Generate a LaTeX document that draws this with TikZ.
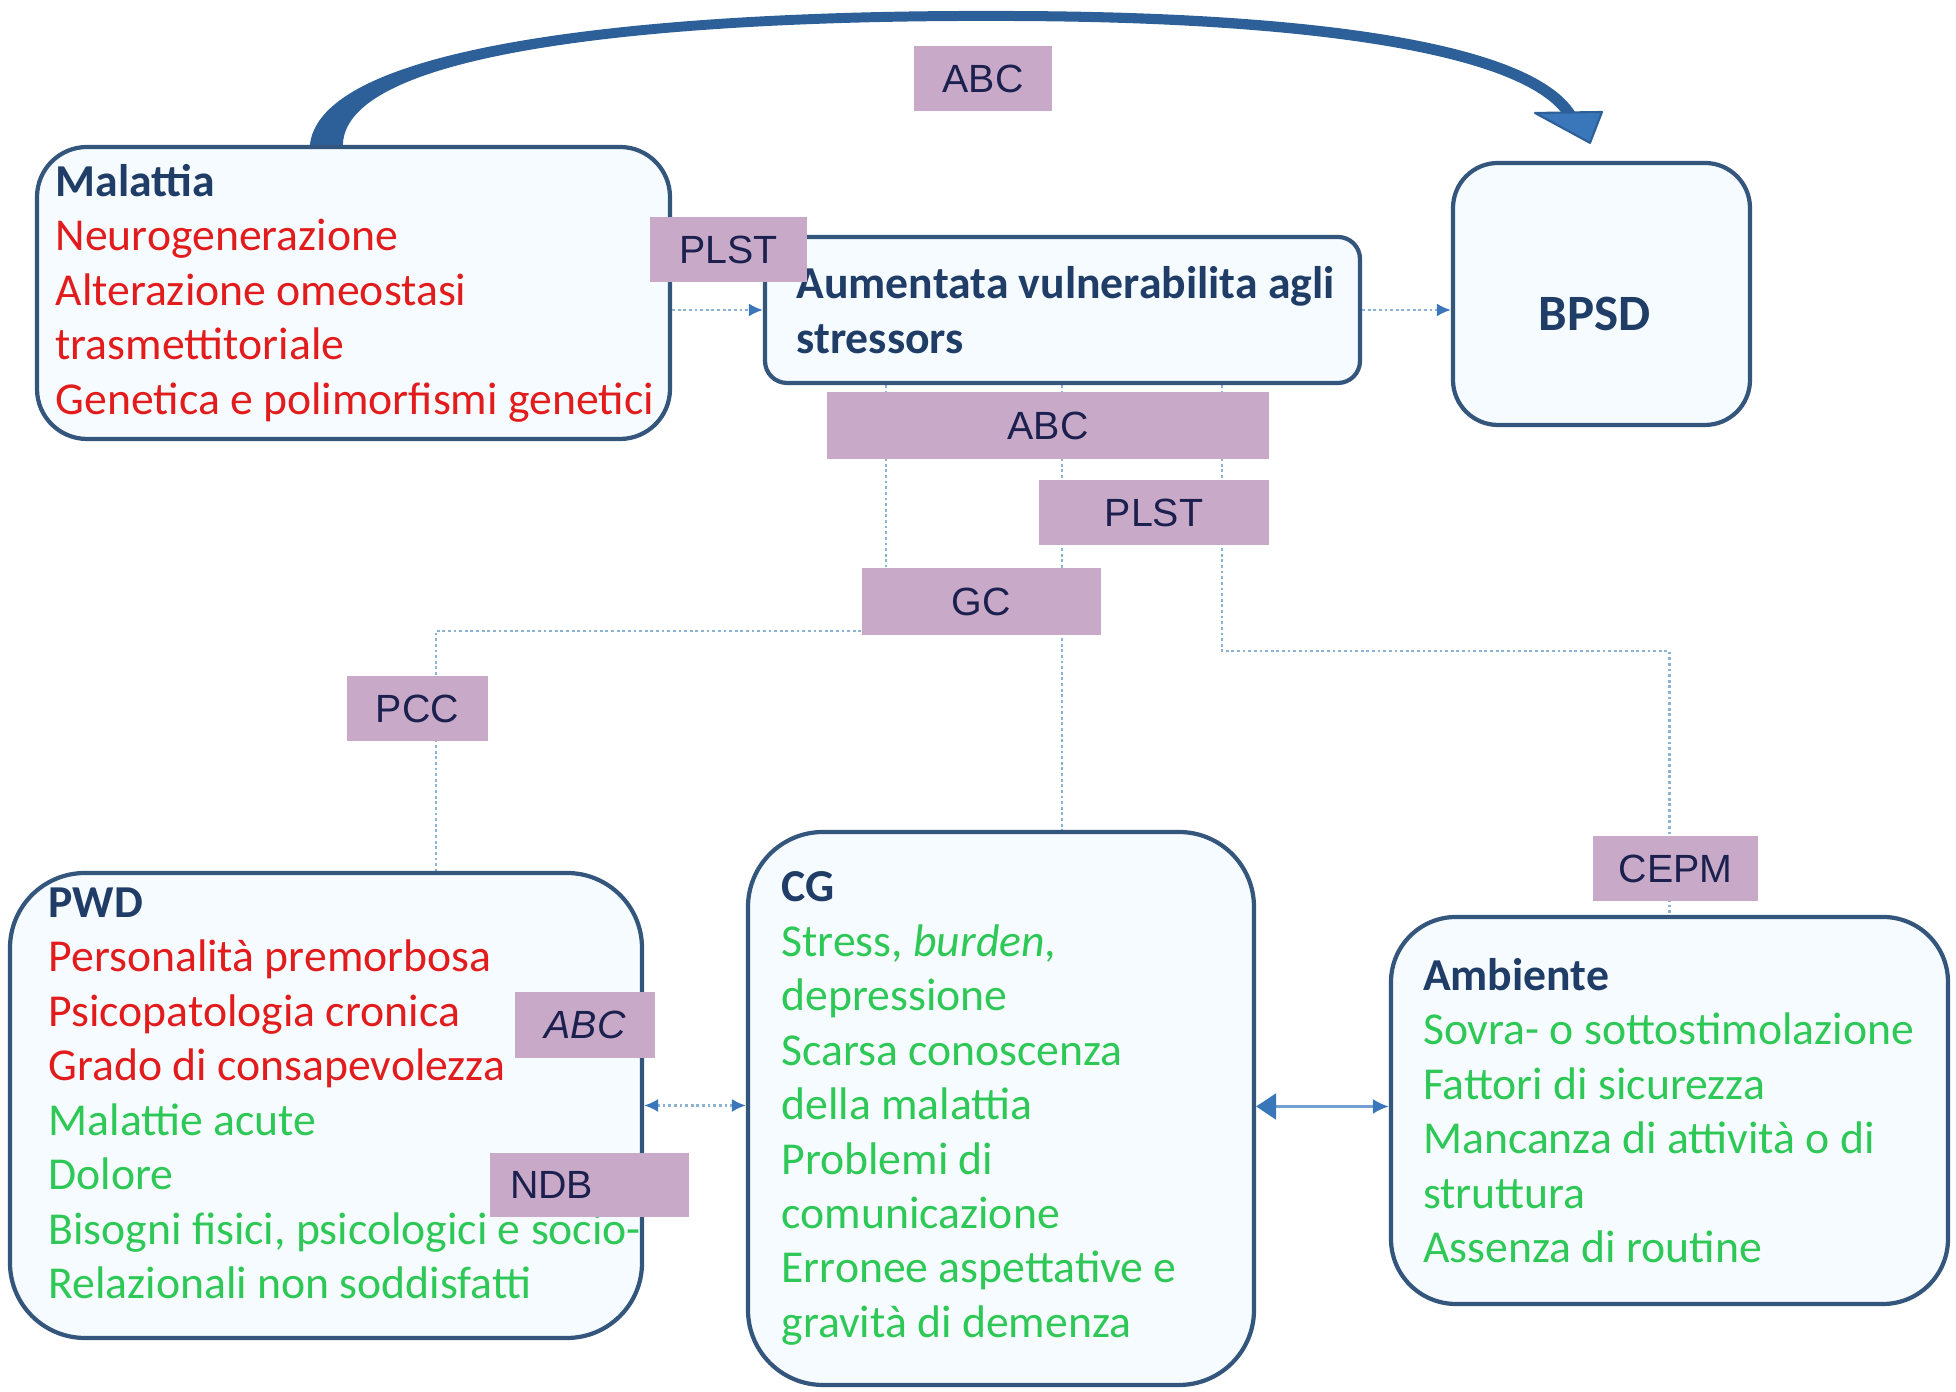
\documentclass[tikz,border=0pt]{standalone}
\usepackage{fontspec}
\setmainfont{Carlito}
\newfontfamily\lblfont{Liberation Sans}
\usetikzlibrary{arrows.meta,calc,backgrounds}

\definecolor{boxline}{RGB}{52,86,124}
\definecolor{boxfill}{RGB}{245,251,254}
\definecolor{hdblue}{RGB}{31,61,102}
\definecolor{txtred}{RGB}{226,28,28}
\definecolor{txtgreen}{RGB}{46,200,86}
\definecolor{lblfill}{RGB}{200,170,200}
\definecolor{lbltext}{RGB}{28,32,78}
\definecolor{arcblue}{RGB}{45,96,152}
\definecolor{dotblue}{RGB}{140,178,212}
\definecolor{headblue}{RGB}{58,118,186}

\newcommand{\boxhead}[1]{\textcolor{hdblue}{\bfseries #1}}
\newcommand{\boxred}[1]{\textcolor{txtred}{#1}}
\newcommand{\boxgreen}[1]{\textcolor{txtgreen}{#1}}

\tikzset{
	factor/.style={draw=boxline, fill=boxfill, line width=1.2pt, rounded corners=#1},
	factor/.default=0.5cm,
	factortext/.style={anchor=west, inner sep=0pt, align=left, font=\fontsize{13}{15.5}\selectfont},
	tag/.style={fill=lblfill, text=lbltext, inner sep=0pt, font=\lblfont\fontsize{11.2}{13}\selectfont},
	dotline/.style={draw=dotblue, line width=0.6pt, dash pattern=on 0.8pt off 0.8pt},
	smallhead/.style={-{Latex[length=1.4mm,width=1.3mm,color=headblue]}},
}

\begin{document}
\begin{tikzpicture}
			%%%%% START %%%%%
			\useasboundingbox (0,0) rectangle (19.56,13.92);
			
			% factor boxes
			\node[factor, minimum width=6.33cm, minimum height=2.92cm] (malattia) at (3.535,10.99) {};
			\node[factortext] (malattiatxt) at ([xshift=0.2cm]malattia.west) {\boxhead{Malattia}\\
				\boxred{Neurogenerazione}\\
				\boxred{Alterazione omeostasi}\\
				\boxred{trasmettitoriale}\\
				\boxred{Genetica e polimorfismi genetici}};
			
			\node[factor=0.22cm, minimum width=5.95cm, minimum height=1.46cm] (aumentata) at (10.625,10.82) {};
			\node[factortext] (aumentatatxt) at ([xshift=0.33cm]aumentata.west) {\boxhead{Aumentata vulnerabilita agli}\\
				\boxhead{stressors}};
			
			\node[factor=0.45cm, minimum width=2.97cm, minimum height=2.62cm] (bpsd) at (16.015,10.98) {};
			\node[text=hdblue, font=\bfseries\fontsize{14.5}{17}\selectfont] (bpsdtxt) at ([shift={(-0.07,-0.2)}]bpsd.center) {BPSD};
			
			\node[factor=0.75cm, minimum width=6.32cm, minimum height=4.65cm] (pwd) at (3.26,2.865) {};
			\node[factortext] (pwdtxt) at ([shift={(0.4,0.12)}]pwd.west) {\boxhead{PWD}\\
				\boxred{Personalità premorbosa}\\
				\boxred{Psicopatologia cronica}\\
				\boxred{Grado di consapevolezza}\\
				\boxgreen{Malattie acute}\\
				\boxgreen{Dolore}\\
				\boxgreen{Bisogni fisici, psicologici e socio-}\\
				\boxgreen{Relazionali non soddisfatti}};
			
			\node[factor=0.75cm, minimum width=5.06cm, minimum height=5.53cm] (cg) at (10.01,2.835) {};
			\node[factortext] (cgtxt) at ([xshift=0.35cm]cg.west) {\boxhead{CG}\\
				\boxgreen{Stress, \textit{burden},}\\
				\boxgreen{depressione}\\
				\boxgreen{Scarsa conoscenza}\\
				\boxgreen{della malattia}\\
				\boxgreen{Problemi di}\\
				\boxgreen{comunicazione}\\
				\boxgreen{Erronee aspettative e}\\
				\boxgreen{gravità di demenza}};
			
			\node[factor=0.65cm, minimum width=5.57cm, minimum height=3.87cm] (ambiente) at (16.695,2.815) {};
			\node[factortext] (ambientetxt) at ([xshift=0.335cm]ambiente.west) {\boxhead{Ambiente}\\
				\boxgreen{Sovra- o sottostimolazione}\\
				\boxgreen{Fattori di sicurezza}\\
				\boxgreen{Mancanza di attività o di}\\
				\boxgreen{struttura}\\
				\boxgreen{Assenza di routine}};
			
			% tags
			\node[tag, minimum width=1.38cm, minimum height=0.65cm] (abctop) at (9.83,13.135) {ABC};
			\node[tag, minimum width=1.57cm, minimum height=0.65cm] (plsttop) at (7.285,11.425) {PLST};
			\node[tag, minimum width=4.42cm, minimum height=0.67cm] (abcmid) at (10.48,9.665) {ABC};
			\node[tag, minimum width=2.30cm, minimum height=0.65cm] (plstmid) at (11.54,8.795) {PLST};
			\node[tag, minimum width=2.39cm, minimum height=0.67cm] (gc) at (9.815,7.905) {GC};
			\node[tag, minimum width=1.41cm, minimum height=0.65cm] (pcc) at (4.175,6.835) {PCC};
			\node[tag, minimum width=1.65cm, minimum height=0.65cm] (cepm) at (16.755,5.235) {CEPM};
			\node[tag, minimum width=1.40cm, minimum height=0.66cm] (abcpwd) at (5.85,3.67) {\itshape ABC};
			\node[tag, inner xsep=0.2cm, text width=1.59cm, align=left, minimum height=0.64cm] (ndb) at (5.895,2.07) {NDB};
			
			% big arc Malattia -> BPSD
			\coordinate (arcbase) at ([xshift=2.9cm]malattia.north west);
			\coordinate (arctip) at ([shift={(-0.115,0.18)}]bpsd.north);
			\fill[arcblue] ([xshift=-0.15cm]arcbase) .. controls (3.22,13.56) and (7.00,13.82) .. (9.98,13.81)
				.. controls (13.00,13.81) and (15.30,13.52) .. (15.75,12.80) -- (15.61,12.80)
				.. controls (15.10,13.42) and (12.90,13.71) .. (9.98,13.71)
				.. controls (7.00,13.72) and (3.45,13.47) .. ([xshift=0.18cm]arcbase) -- cycle;
			\filldraw[fill=headblue, draw=arcblue, line width=0.6pt, line join=round] (arctip) -- (15.35,12.79) -- (16.02,12.80) -- cycle;
			
			% dotted connectors
			\draw[dotline, smallhead] (malattia.east |- aumentata.west) -- (aumentata.west);
			\draw[dotline, smallhead] (aumentata.east) -- (aumentata.east -| bpsd.west);
			
			\begin{pgfonlayer}{background}
				\draw[dotline] ([xshift=1.23cm]aumentata.south west) -- ([xshift=1.23cm]aumentata.south west |- gc.north);
				\draw[dotline] ([xshift=2.99cm]aumentata.south west) -- ([xshift=2.99cm]aumentata.south west |- cg.north);
				\draw[dotline] ([xshift=4.59cm]aumentata.south west) -- ++(0,-2.66) -| (ambiente.north);
				\draw[dotline] ([yshift=0.05cm]gc.south west) -| ([xshift=4.28cm]pwd.north west);
			\end{pgfonlayer}
			
			\draw[dotline, {Latex[length=1.4mm,width=1.3mm,color=headblue]}-{Latex[length=1.4mm,width=1.3mm,color=headblue]}] (pwd.east) -- (pwd.east -| cg.west);
			\draw[draw=headblue!70, line width=0.7pt, {Triangle[length=2mm,width=2.6mm,color=headblue]}-{Latex[length=1.6mm,width=1.5mm,color=headblue]}] ([yshift=0.02cm]cg.east) -- ([yshift=0.02cm]cg.east -| ambiente.west);
			
			%%%%% END %%%%%
\end{tikzpicture}
\end{document}
